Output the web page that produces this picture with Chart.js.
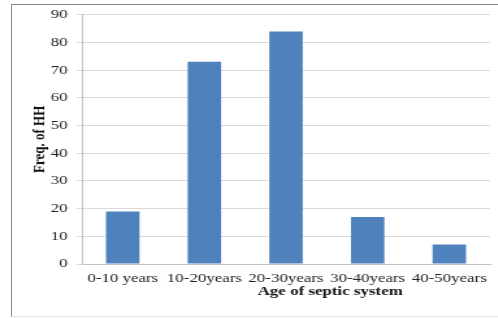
<!DOCTYPE html>
<html>
<head>
<meta charset="utf-8">
<script src="https://cdn.jsdelivr.net/npm/chart.js@4"></script>
<style>
  html, body { margin: 0; padding: 0; background: #fff; }
  #wrap { position: relative; width: 498px; height: 318px; overflow: hidden; }
  #frame { position: absolute; left: 11px; top: 4px; width: 520px; height: 311px;
           border-left: 1px solid #8a8a8a; border-top: 1px solid #8a8a8a; border-bottom: 1px solid #e4e4e4; }
  /* the reference is stretched sideways, so the chart is drawn narrow and widened */
  #stretch { position: absolute; left: 0; top: 0; width: 383px; height: 318px;
             transform: scaleX(1.3); transform-origin: 0 0; }
  canvas { position: absolute; left: 0; top: 0; }
</style>
</head>
<body>
<div id="wrap">
  <div id="frame"></div>
  <div id="stretch"><canvas id="chart" width="383" height="318"></canvas></div>
</div>
<script>
// Data
const categories = ['0-10 years', '10-20years', '20-30years', '30-40years', '40-50years'];
const households = [19, 73, 84, 17, 7];
const yTicks = [0, 10, 20, 30, 40, 50, 60, 70, 80, 90];
const xTitle = 'Age of septic system';

const serif = "'Liberation Serif', 'Times New Roman', serif";

// x title sits right of centre in the reference, so it is drawn by hand
const xTitlePlugin = {
    id: 'xTitle',
    afterDraw(chart) {
        const { ctx, chartArea, scales } = chart;
        ctx.save();
        ctx.font = 'bold 13px ' + serif;
        ctx.fillStyle = '#111';
        ctx.textAlign = 'center';
        ctx.textBaseline = 'middle';
        ctx.fillText(xTitle, (chartArea.left + chartArea.right) / 2 + 34, scales.x.bottom - 8);
        ctx.restore();
    }
};

new Chart(document.getElementById('chart'), {
    type: 'bar',
    data: {
        labels: categories,
        datasets: [{
            label: 'Freq. of HH',
            data: households,
            backgroundColor: '#4f81bd',
            borderWidth: 0,
            categoryPercentage: 1,
            barPercentage: 0.41
        }]
    },
    plugins: [xTitlePlugin],
    options: {
        responsive: false,
        animation: false,
        layout: { padding: { left: 23, right: 6, top: 11, bottom: 18 } },
        plugins: {
            legend: { display: false },
            tooltip: { enabled: false }
        },
        scales: {
            x: {
                grid: { display: false, drawTicks: false },
                border: { color: '#c4c4c4', width: 1 },
                ticks: {
                    color: '#222',
                    font: { family: serif, size: 13 },
                    padding: 7,
                    maxRotation: 0,
                    autoSkip: false
                },
                afterFit: function(scale) { scale.height = 36; }
            },
            y: {
                min: 0,
                max: 90,
                afterBuildTicks: function(scale) {
                    scale.ticks = yTicks.map(v => ({ value: v }));
                },
                grid: { color: '#dadada', lineWidth: 1, tickLength: 4 },
                border: { color: '#c4c4c4', width: 1 },
                ticks: {
                    color: '#222',
                    font: { family: serif, size: 13 },
                    padding: 7
                },
                title: {
                    display: true,
                    text: 'Freq. of HH',
                    color: '#111',
                    font: { family: serif, size: 13, weight: 'bold' },
                    padding: { top: 0, bottom: 0 }
                },
                afterFit: function(scale) { scale.width = 40; }
            }
        }
    }
});
</script>
</body>
</html>
